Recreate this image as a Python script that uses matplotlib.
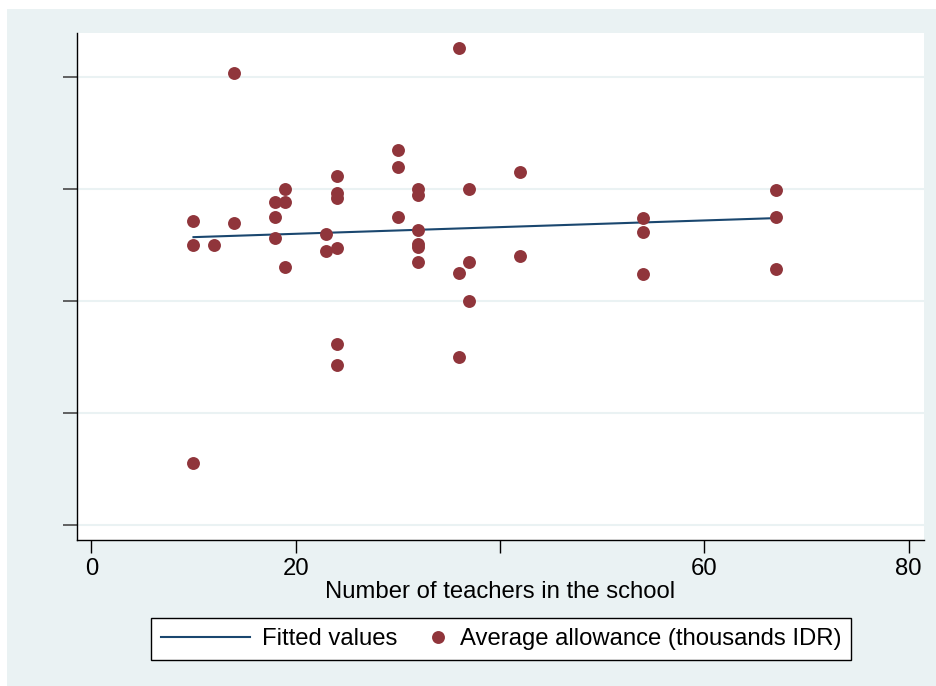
import matplotlib as mpl
mpl.use('Agg')
import matplotlib.pyplot as plt
from matplotlib.legend_handler import HandlerLine2D
from matplotlib.patches import Rectangle

# number of teachers in the school
teachers = [10, 10, 10, 12, 14, 14, 18, 18, 18, 19, 19, 19, 23, 23,
            24, 24, 24, 24, 24, 24, 30, 30, 30, 32, 32, 32, 32, 32, 32,
            36, 36, 36, 37, 37, 37, 42, 42, 54, 54, 54, 67, 67, 67]
# average allowance (thousands IDR)
allowance = [271, 250, 55, 250, 404, 270, 288, 275, 256, 300, 288, 230, 260, 245,
             312, 296, 292, 247, 162, 143, 335, 320, 275, 300, 295, 263, 251, 248, 235,
             426, 225, 150, 300, 235, 200, 315, 240, 274, 262, 224, 299, 275, 229]
# fitted values (linear fit) at the end points
fit_x = [10, 67]
fit_y = [257, 274]

xticks = [0, 20, 40, 60, 80]
xticklabels = ['0', '20', '', '60', '80']
yticks = [0, 100, 200, 300, 400]

navy = '#1A476F'
maroon = '#90353B'
bg = '#EAF2F3'
fs = 17.2

plt.rcParams['font.family'] = ['Liberation Sans', 'DejaVu Sans']

fig = plt.figure(figsize=(9.36, 6.86), dpi=100)
fig.patches.append(Rectangle((7 / 936, 0), 1, 1 - 9 / 686, transform=fig.transFigure,
                             facecolor=bg, edgecolor='none', zorder=-10))
ax = fig.add_axes([76.7 / 936, 1 - 540 / 686, (924 - 76.7) / 936, (540 - 33.3) / 686])
ax.set_facecolor('white')

ax.plot(fit_x, fit_y, color=navy, lw=1.5, label='Fitted values', zorder=2)
ax.plot(teachers, allowance, ls='none', marker='o', ms=9.3, color=maroon,
        markeredgewidth=0, label='Average allowance (thousands IDR)', zorder=3)

ax.set_xlim(-1.43, 81.5)
ax.set_ylim(-13.4, 439)
ax.set_xticks(xticks)
ax.set_xticklabels(xticklabels)
ax.set_yticks(yticks)
ax.set_yticklabels([])
ax.grid(axis='y', color=bg, lw=1.5)
ax.set_axisbelow(True)
for s in ['top', 'right']:
    ax.spines[s].set_visible(False)
ax.spines['left'].set_linewidth(1.0)
ax.spines['bottom'].set_linewidth(1.0)
ax.tick_params(axis='x', length=9, width=1, labelsize=fs, pad=4)
ax.tick_params(axis='y', length=10, width=1.3, color='#555555')
ax.set_xlabel('Number of teachers in the school', fontsize=fs, labelpad=1)


class RightMarker(HandlerLine2D):
    def create_artists(self, legend, orig_handle, xdescent, ydescent, width, height,
                       fontsize, trans):
        xd = xdescent - 0.5 * width + 0.41 * fontsize
        return super().create_artists(legend, orig_handle, xd, ydescent, width, height,
                                      fontsize, trans)


h, l = ax.get_legend_handles_labels()
leg = fig.legend(h, l, loc='center', bbox_to_anchor=(501 / 936, 1 - 639 / 686), ncol=2,
                 fontsize=fs, frameon=True, fancybox=False, edgecolor='black',
                 framealpha=1, handlelength=3.72, handletextpad=0.5, columnspacing=-1.6,
                 borderpad=0.4, handler_map={h[1]: RightMarker()})
leg.get_frame().set_linewidth(1.0)

fig.savefig('out.png', dpi=100, facecolor='white')
